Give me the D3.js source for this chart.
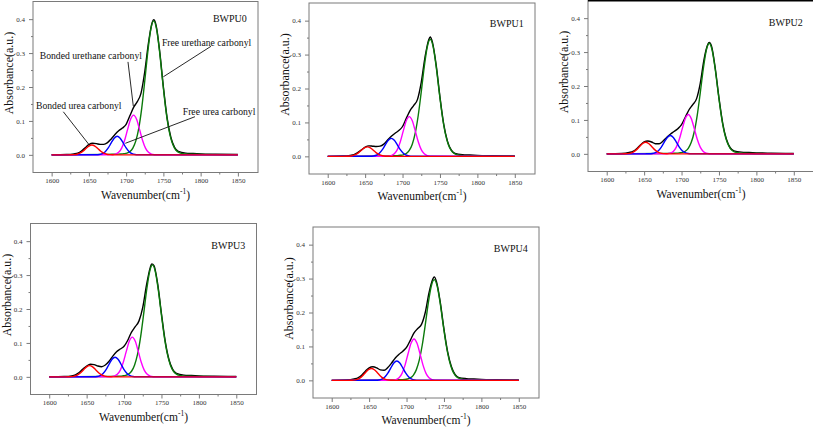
<!DOCTYPE html>
<html><head><meta charset="utf-8">
<script src="https://cdn.jsdelivr.net/npm/d3@7"></script>
<style>body{margin:0;background:#fff} svg{display:block}</style>
</head><body>
<svg id="c" width="813" height="427"></svg>
<script>
// ---------- DATA ----------
const panelNames = ["BWPU0", "BWPU1", "BWPU2", "BWPU3", "BWPU4"];
const xTicks = [1600, 1650, 1700, 1750, 1800, 1850];
const xMinorTicks = [1625, 1675, 1725, 1775, 1825];
const yTicks = [0.0, 0.1, 0.2, 0.3, 0.4];
const yMinorTicks = [0.05, 0.15, 0.25, 0.35];

// measured spectrum (black), shared wavenumber grid
const blackWn = [1600,1620,1630,1635,1640,1645,1650,1655,1660,1665,1670,1675,1680,1685,1690,1695,1700,1705,1710,1715,1720,1725,1730,1735,1737,1740,1745,1750,1755,1760,1765,1770,1780,1790,1800,1820,1850];
const bwpu0Black = [0,0.001,0.003,0.005,0.011,0.021,0.030,0.034,0.033,0.031,0.031,0.036,0.047,0.060,0.071,0.079,0.090,0.115,0.140,0.157,0.182,0.245,0.330,0.390,0.398,0.384,0.306,0.200,0.109,0.052,0.022,0.010,0.005,0.004,0.003,0.002,0.001];
const bwpu1Black = [0,0.001,0.003,0.005,0.011,0.019,0.027,0.031,0.030,0.029,0.030,0.036,0.048,0.059,0.068,0.076,0.088,0.112,0.135,0.150,0.168,0.218,0.292,0.344,0.352,0.336,0.268,0.175,0.095,0.045,0.019,0.009,0.005,0.004,0.003,0.002,0.001];
const bwpu2Black = [0,0.001,0.004,0.007,0.015,0.026,0.035,0.038,0.035,0.030,0.030,0.037,0.048,0.058,0.066,0.074,0.086,0.108,0.130,0.145,0.162,0.208,0.278,0.322,0.328,0.318,0.253,0.165,0.090,0.043,0.018,0.009,0.005,0.004,0.003,0.002,0.001];
const bwpu3Black = [0,0.001,0.003,0.006,0.013,0.023,0.032,0.037,0.036,0.032,0.030,0.035,0.046,0.061,0.074,0.082,0.090,0.108,0.132,0.148,0.165,0.205,0.270,0.322,0.333,0.328,0.273,0.186,0.105,0.051,0.022,0.010,0.005,0.004,0.003,0.002,0.001];
const bwpu4Black = [0,0.001,0.004,0.007,0.015,0.027,0.037,0.040,0.037,0.031,0.030,0.038,0.051,0.066,0.077,0.086,0.097,0.118,0.140,0.153,0.165,0.200,0.258,0.298,0.305,0.291,0.231,0.151,0.083,0.040,0.017,0.008,0.005,0.004,0.003,0.002,0.001];

// fitted bands: bonded urea (red), free urea (blue), bonded urethane (magenta), free urethane (green)
const bwpu0Red = [[1600,0],[1622,0],[1626,0.0001],[1630,0.0006],[1634,0.0018],[1638,0.0049],[1642,0.0107],[1646,0.0186],[1650,0.026],[1654,0.029],[1658,0.026],[1662,0.0186],[1666,0.0107],[1670,0.0049],[1674,0.0018],[1678,0.0006],[1682,0.0001],[1686,0],[1850,0]];
const bwpu0Blue = [[1600,0],[1656,0.0001],[1660,0.0002],[1664,0.001],[1668,0.0035],[1672,0.0094],[1676,0.0203],[1680,0.0353],[1684,0.0492],[1688,0.055],[1692,0.0492],[1696,0.0353],[1700,0.0203],[1704,0.0094],[1708,0.0035],[1712,0.001],[1716,0.0002],[1720,0.0001],[1850,0]];
const bwpu0Magenta = [[1600,0],[1678,0.0001],[1682,0.0005],[1686,0.0022],[1690,0.0074],[1694,0.0199],[1698,0.0432],[1702,0.0751],[1706,0.1047],[1710,0.117],[1714,0.1047],[1718,0.0751],[1722,0.0432],[1726,0.0199],[1730,0.0074],[1734,0.0022],[1738,0.0005],[1742,0.0001],[1850,0]];
const bwpu0Green = [[1600,0],[1673,0.0013],[1681,0.0016],[1689,0.0021],[1693,0.0025],[1697,0.0035],[1701,0.0051],[1705,0.0095],[1709,0.0198],[1713,0.0411],[1717,0.079],[1721,0.1386],[1725,0.2176],[1729,0.3022],[1733,0.3689],[1737,0.395],[1741,0.3689],[1745,0.3022],[1749,0.2176],[1753,0.1386],[1757,0.079],[1761,0.0411],[1765,0.0198],[1769,0.0095],[1773,0.0051],[1777,0.0035],[1781,0.0025],[1785,0.0021],[1793,0.0016],[1801,0.0013],[1817,0.0008],[1837,0.0005],[1850,0.0004]];

const bwpu1Red = [[1600,0],[1621,0],[1625,0.0001],[1629,0.0005],[1633,0.0018],[1637,0.0048],[1641,0.0103],[1645,0.018],[1649,0.0251],[1653,0.028],[1657,0.0251],[1661,0.018],[1665,0.0103],[1669,0.0048],[1673,0.0018],[1677,0.0005],[1681,0.0001],[1685,0],[1850,0]];
const bwpu1Blue = [[1600,0],[1653,0.0001],[1657,0.0002],[1661,0.001],[1665,0.0033],[1669,0.009],[1673,0.0196],[1677,0.034],[1681,0.0474],[1685,0.053],[1689,0.0474],[1693,0.034],[1697,0.0196],[1701,0.009],[1705,0.0033],[1709,0.001],[1713,0.0002],[1717,0.0001],[1850,0]];
const bwpu1Magenta = [[1600,0],[1677,0.0001],[1681,0.0005],[1685,0.0022],[1689,0.0074],[1693,0.0199],[1697,0.0432],[1701,0.0751],[1705,0.1047],[1709,0.117],[1713,0.1047],[1717,0.0751],[1721,0.0432],[1725,0.0199],[1729,0.0074],[1733,0.0022],[1737,0.0005],[1741,0.0001],[1850,0]];
const bwpu1Green = [[1600,0],[1673,0.0011],[1681,0.0014],[1689,0.0019],[1693,0.0022],[1697,0.0031],[1701,0.0045],[1705,0.0083],[1709,0.0173],[1713,0.0359],[1717,0.069],[1721,0.1211],[1725,0.1901],[1729,0.2639],[1733,0.3222],[1737,0.345],[1741,0.3222],[1745,0.2639],[1749,0.1901],[1753,0.1211],[1757,0.069],[1761,0.0359],[1765,0.0173],[1769,0.0083],[1773,0.0045],[1777,0.0031],[1781,0.0022],[1785,0.0019],[1793,0.0014],[1801,0.0011],[1817,0.0007],[1837,0.0004],[1850,0.0003]];

const bwpu2Red = [[1600,0],[1620,0],[1624,0.0001],[1628,0.0006],[1632,0.0021],[1636,0.0058],[1640,0.0125],[1644,0.0218],[1648,0.0304],[1652,0.034],[1656,0.0304],[1660,0.0218],[1664,0.0125],[1668,0.0058],[1672,0.0021],[1676,0.0006],[1680,0.0001],[1684,0],[1850,0]];
const bwpu2Blue = [[1600,0],[1653,0.0001],[1657,0.0002],[1661,0.001],[1665,0.0034],[1669,0.0092],[1673,0.0199],[1677,0.0347],[1681,0.0483],[1685,0.054],[1689,0.0483],[1693,0.0347],[1697,0.0199],[1701,0.0092],[1705,0.0034],[1709,0.001],[1713,0.0002],[1717,0.0001],[1850,0]];
const bwpu2Magenta = [[1600,0],[1677,0.0001],[1681,0.0005],[1685,0.0022],[1689,0.0073],[1693,0.0197],[1697,0.0428],[1701,0.0745],[1705,0.1038],[1709,0.116],[1713,0.1038],[1717,0.0745],[1721,0.0428],[1725,0.0197],[1729,0.0073],[1733,0.0022],[1737,0.0005],[1741,0.0001],[1850,0]];
const bwpu2Green = [[1600,0],[1673,0.001],[1681,0.0013],[1689,0.0018],[1693,0.0021],[1697,0.0029],[1701,0.0042],[1705,0.0078],[1709,0.0163],[1713,0.0339],[1717,0.0652],[1721,0.1144],[1725,0.1796],[1729,0.2494],[1733,0.3045],[1737,0.326],[1741,0.3045],[1745,0.2494],[1749,0.1796],[1753,0.1144],[1757,0.0652],[1761,0.0339],[1765,0.0163],[1769,0.0078],[1773,0.0042],[1777,0.0029],[1781,0.0021],[1785,0.0018],[1793,0.0013],[1801,0.001],[1817,0.0007],[1837,0.0004],[1850,0.0003]];

const bwpu3Red = [[1600,0],[1622,0],[1626,0.0001],[1630,0.0006],[1634,0.0021],[1638,0.0056],[1642,0.0122],[1646,0.0212],[1650,0.0295],[1654,0.033],[1658,0.0295],[1662,0.0212],[1666,0.0122],[1670,0.0056],[1674,0.0021],[1678,0.0006],[1682,0.0001],[1686,0],[1850,0]];
const bwpu3Blue = [[1600,0],[1656,0.0001],[1660,0.0002],[1664,0.0011],[1668,0.0037],[1672,0.0099],[1676,0.0214],[1680,0.0372],[1684,0.0519],[1688,0.058],[1692,0.0519],[1696,0.0372],[1700,0.0214],[1704,0.0099],[1708,0.0037],[1712,0.0011],[1716,0.0002],[1720,0.0001],[1850,0]];
const bwpu3Magenta = [[1600,0],[1679,0.0001],[1683,0.0005],[1687,0.0022],[1691,0.0074],[1695,0.0199],[1699,0.0432],[1703,0.0751],[1707,0.1047],[1711,0.117],[1715,0.1047],[1719,0.0751],[1723,0.0432],[1727,0.0199],[1731,0.0074],[1735,0.0022],[1739,0.0005],[1743,0.0001],[1850,0]];
const bwpu3Green = [[1600,0],[1674,0.0011],[1682,0.0014],[1690,0.0018],[1694,0.0021],[1698,0.0029],[1702,0.0043],[1706,0.0079],[1710,0.0165],[1714,0.0343],[1718,0.066],[1722,0.1158],[1726,0.1818],[1730,0.2525],[1734,0.3082],[1738,0.33],[1742,0.3082],[1746,0.2525],[1750,0.1818],[1754,0.1158],[1758,0.066],[1762,0.0343],[1766,0.0165],[1770,0.0079],[1774,0.0043],[1778,0.0029],[1782,0.0021],[1786,0.0018],[1794,0.0014],[1802,0.0011],[1818,0.0007],[1838,0.0004],[1850,0.0003]];

const bwpu4Red = [[1600,0],[1621,0],[1625,0.0001],[1629,0.0007],[1633,0.0022],[1637,0.006],[1641,0.0129],[1645,0.0225],[1649,0.0313],[1653,0.035],[1657,0.0313],[1661,0.0225],[1665,0.0129],[1669,0.006],[1673,0.0022],[1677,0.0007],[1681,0.0001],[1685,0],[1850,0]];
const bwpu4Blue = [[1600,0],[1655,0.0001],[1659,0.0002],[1663,0.0011],[1667,0.0036],[1671,0.0097],[1675,0.021],[1679,0.0366],[1683,0.051],[1687,0.057],[1691,0.051],[1695,0.0366],[1699,0.021],[1703,0.0097],[1707,0.0036],[1711,0.0011],[1715,0.0002],[1719,0.0001],[1850,0]];
const bwpu4Magenta = [[1600,0],[1678,0.0001],[1682,0.0005],[1686,0.0023],[1690,0.0077],[1694,0.0207],[1698,0.045],[1702,0.0783],[1706,0.1092],[1710,0.122],[1714,0.1092],[1718,0.0783],[1722,0.045],[1726,0.0207],[1730,0.0077],[1734,0.0023],[1738,0.0005],[1742,0.0001],[1850,0]];
const bwpu4Green = [[1600,0],[1673,0.001],[1681,0.0012],[1689,0.0016],[1693,0.0019],[1697,0.0026],[1701,0.0039],[1705,0.0071],[1709,0.0149],[1713,0.0309],[1717,0.0594],[1721,0.1042],[1725,0.1636],[1729,0.2272],[1733,0.2774],[1737,0.297],[1741,0.2774],[1745,0.2272],[1749,0.1636],[1753,0.1042],[1757,0.0594],[1761,0.0309],[1765,0.0149],[1769,0.0071],[1773,0.0039],[1777,0.0026],[1781,0.0019],[1785,0.0016],[1793,0.0012],[1801,0.001],[1817,0.0006],[1837,0.0004],[1850,0.0003]];

// annotations (BWPU0 only): label, text anchor [wn, abs], leader line from -> to
const annoLabels = ["Bonded urethane carbonyl", "Free urethane carbonyl", "Bonded urea carbonyl", "Free urea carbonyl"];
const annoText = [[1584, 0.283], [1748, 0.321], [1579, 0.135], [1776, 0.1175]];
const annoFrom = [[1702.5, 0.274], [1813.9, 0.320], [1615.7, 0.127], [1792.4, 0.1125]];
const annoTo = [[1709.6, 0.144], [1749.9, 0.230], [1650.6, 0.029], [1698.9, 0.034]];

// ---------- LAYOUT ----------
const blacks = [bwpu0Black, bwpu1Black, bwpu2Black, bwpu3Black, bwpu4Black];
const reds = [bwpu0Red, bwpu1Red, bwpu2Red, bwpu3Red, bwpu4Red];
const blues = [bwpu0Blue, bwpu1Blue, bwpu2Blue, bwpu3Blue, bwpu4Blue];
const magentas = [bwpu0Magenta, bwpu1Magenta, bwpu2Magenta, bwpu3Magenta, bwpu4Magenta];
const greens = [bwpu0Green, bwpu1Green, bwpu2Green, bwpu3Green, bwpu4Green];

const rects = [
  [33, 1.5, 258, 172.5],
  [309, 3, 535, 174],
  [588, 0.5, 814, 171.5],
  [30.5, 223.5, 256.5, 394.5],
  [313, 227, 539, 398]
];
const labelY = [0.392, 0.382, 0.378, 0.378, 0.378];

const FONT = "'Liberation Serif','Times New Roman',serif";
const svg = d3.select("#c");
const colors = {black: "#000000", green: "#0b7a0b", magenta: "#ff00ff", blue: "#0000ff", red: "#ff0000"};

panelNames.forEach((name, i) => {
  const [L, T, R, B] = rects[i];
  const x = d3.scaleLinear().domain([1575, 1877]).range([L, R]);
  const y = d3.scaleLinear().domain([-0.052, 0.452]).range([B, T]);
  const g = svg.append("g");

  // frame
  g.append("rect").attr("x", L).attr("y", T).attr("width", R - L).attr("height", B - T)
    .attr("fill", "none").attr("stroke", "#7a7a7a").attr("stroke-width", 1);
  if (i === 2) {
    g.append("line").attr("x1", L).attr("x2", R).attr("y1", 0.5).attr("y2", 0.5)
      .attr("stroke", "#000").attr("stroke-width", 2);
  }

  // axes
  const xa = g.append("g").attr("transform", `translate(0,${B})`)
    .call(d3.axisBottom(x).tickValues(xTicks).tickSize(4).tickPadding(2).tickFormat(d3.format("d")));
  const xm = g.append("g").attr("transform", `translate(0,${B})`)
    .call(d3.axisBottom(x).tickValues(xMinorTicks).tickSize(2).tickFormat(""));
  const ya = g.append("g").attr("transform", `translate(${L},0)`)
    .call(d3.axisLeft(y).tickValues(yTicks).tickSize(4).tickPadding(4).tickFormat(d3.format(".1f")));
  const ym = g.append("g").attr("transform", `translate(${L},0)`)
    .call(d3.axisLeft(y).tickValues(yMinorTicks).tickSize(2).tickFormat(""));
  [xa, xm, ya, ym].forEach(a => {
    a.attr("font-family", FONT);
    a.select(".domain").remove();
    a.selectAll("line").attr("stroke", "#7a7a7a");
    a.selectAll("text").attr("font-family", FONT).attr("font-size", 7).attr("fill", "#333");
  });

  // axis titles
  g.append("text")
    .attr("transform", `translate(${L - 20},${(T + B) / 2 - 14}) rotate(-90)`)
    .attr("text-anchor", "middle").attr("font-family", FONT).attr("font-size", 12).attr("fill", "#111")
    .text("Absorbance(a.u.)");
  const xt = g.append("text").attr("x", (L + R) / 2).attr("y", B + 26)
    .attr("text-anchor", "middle").attr("font-family", FONT).attr("font-size", 11.5).attr("fill", "#111");
  xt.append("tspan").text("Wavenumber(cm");
  xt.append("tspan").attr("font-size", 7.5).attr("dy", -5).text("-1");
  xt.append("tspan").attr("dy", 5).text(")");

  // curves
  const line = d3.line().x(d => x(d[0])).y(d => y(d[1])).curve(d3.curveMonotoneX);
  const blackPts = blackWn.map((w, k) => [w, blacks[i][k]]);
  const series = [[blackPts, colors.black], [greens[i], colors.green], [magentas[i], colors.magenta],
                  [blues[i], colors.blue], [reds[i], colors.red]];
  series.forEach(([pts, col]) => {
    g.append("path").attr("d", line(pts)).attr("fill", "none").attr("stroke", col)
      .attr("stroke-width", 1.4).attr("stroke-linejoin", "round");
  });

  // panel label
  g.append("text").attr("x", x(1862)).attr("y", y(labelY[i])).attr("text-anchor", "end")
    .attr("font-family", FONT).attr("font-size", 10).attr("fill", "#111").text(name);

  // annotations
  if (i === 0) {
    annoLabels.forEach((t, k) => {
      g.append("line").attr("x1", x(annoFrom[k][0])).attr("y1", y(annoFrom[k][1]))
        .attr("x2", x(annoTo[k][0])).attr("y2", y(annoTo[k][1]))
        .attr("stroke", "#111").attr("stroke-width", 0.9);
      g.append("text").attr("x", x(annoText[k][0])).attr("y", y(annoText[k][1]))
        .attr("font-family", FONT).attr("font-size", 9.7).attr("fill", "#111").text(t);
    });
  }
});
</script>
</body></html>
